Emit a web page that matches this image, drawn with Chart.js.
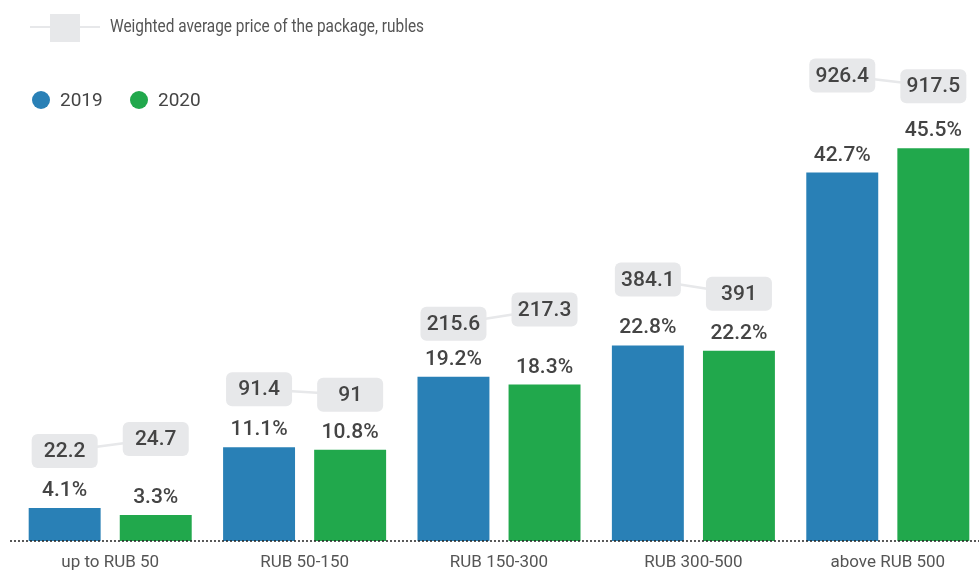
<!DOCTYPE html>
<html>
<head>
<meta charset="utf-8">
<script src="https://cdn.jsdelivr.net/npm/chart.js@4/dist/chart.umd.min.js"></script>
<style>
  html, body { margin: 0; padding: 0; background: #fff; overflow: hidden; }
  #wrap { position: absolute; left: 0; top: 0; width: 985px; height: 572px; }
</style>
</head>
<body>
<div id="wrap"><canvas id="myChart"></canvas></div>
<script>
var categories = ["up to RUB 50", "RUB 50-150", "RUB 150-300", "RUB 300-500", "above RUB 500"];
var share2019 = [4.1, 11.1, 19.2, 22.8, 42.7];
var share2020 = [3.3, 10.8, 18.3, 22.2, 45.5];
var price2019 = [22.2, 91.4, 215.6, 384.1, 926.4];
var price2020 = [24.7, 91, 217.3, 391, 917.5];
var seriesNames = ["2019", "2020"];
var priceLegend = "Weighted average price of the package, rubles";

var blue = "#2980b6";
var green = "#21a84c";
var boxGrey = "#e7e8ea";
var numFont = "500 21px Roboto";

function roundRect(ctx, x, y, w, h, r) {
    ctx.beginPath();
    ctx.moveTo(x + r, y);
    ctx.arcTo(x + w, y, x + w, y + h, r);
    ctx.arcTo(x + w, y + h, x, y + h, r);
    ctx.arcTo(x, y + h, x, y, r);
    ctx.arcTo(x, y, x + w, y, r);
    ctx.closePath();
}

// value labels above bars + price boxes joined by a line
var labelsPlugin = {
    id: "barLabels",
    afterDatasetsDraw: function (chart, args, opts) {
        var ctx = chart.ctx;
        var prices = [price2019, price2020];
        var m0 = chart.getDatasetMeta(0).data;
        var m1 = chart.getDatasetMeta(1).data;
        ctx.save();

        // dotted baseline
        var yb = chart.chartArea.bottom;
        ctx.strokeStyle = "#222";
        ctx.lineWidth = 1.5;
        ctx.setLineDash([2, 2]);
        ctx.beginPath();
        ctx.moveTo(10, yb);
        ctx.lineTo(chart.width, yb);
        ctx.stroke();
        ctx.setLineDash([]);

        // connectors
        ctx.strokeStyle = boxGrey;
        ctx.lineWidth = 2.5;
        for (var i = 0; i < categories.length; i++) {
            ctx.beginPath();
            ctx.moveTo(m0[i].x, m0[i].y - opts.lift[0][i]);
            ctx.lineTo(m1[i].x, m1[i].y - opts.lift[1][i]);
            ctx.stroke();
        }

        ctx.textAlign = "center";
        [m0, m1].forEach(function (bars, d) {
            bars.forEach(function (bar, i) {
                var cy = bar.y - opts.lift[d][i];
                ctx.fillStyle = boxGrey;
                roundRect(ctx, bar.x - 33, cy - 17, 66, 34, 6);
                ctx.fill();
                ctx.fillStyle = "#444";
                ctx.font = numFont;
                ctx.textBaseline = "middle";
                ctx.fillText(String(prices[d][i]), bar.x, cy + 1);

                var v = chart.data.datasets[d].data[i];
                ctx.textBaseline = "alphabetic";
                ctx.fillText(v + "%", bar.x, bar.y - 12);
            });
        });
        ctx.restore();
    },
    afterDraw: function (chart) {
        var ctx = chart.ctx;
        ctx.save();
        // price legend row
        ctx.strokeStyle = boxGrey;
        ctx.lineWidth = 2;
        ctx.beginPath();
        ctx.moveTo(30, 27);
        ctx.lineTo(100, 27);
        ctx.stroke();
        ctx.fillStyle = boxGrey;
        ctx.fillRect(50, 14, 30, 28);
        ctx.fillStyle = "#555";
        ctx.font = "19px Roboto";
        ctx.textBaseline = "middle";
        ctx.textAlign = "left";
        // condensed look: squeeze the text to the legend width
        var w = ctx.measureText(priceLegend).width;
        ctx.save();
        ctx.translate(110, 27);
        ctx.scale(314 / w, 1);
        ctx.fillText(priceLegend, 0, 0);
        ctx.restore();

        // series legend row
        var xs = [41, 139];
        ctx.font = "19px Roboto";
        chart.data.datasets.forEach(function (ds, k) {
            ctx.fillStyle = ds.backgroundColor;
            ctx.beginPath();
            ctx.arc(xs[k], 100, 9, 0, Math.PI * 2);
            ctx.fill();
            ctx.fillStyle = "#444";
            ctx.fillText(ds.label, xs[k] + 19, 101);
        });
        ctx.restore();
    }
};

new Chart("myChart", {
    type: "bar",
    data: {
        labels: categories,
        datasets: [{
            label: seriesNames[0],
            backgroundColor: blue,
            data: share2019
        }, {
            label: seriesNames[1],
            backgroundColor: green,
            data: share2020
        }]
    },
    options: {
        responsive: true,
        maintainAspectRatio: false,
        devicePixelRatio: 1,
        animation: false,
        categoryPercentage: 0.937,
        barPercentage: 0.79,
        layout: { padding: { top: 110, left: 13, right: 0, bottom: 0 } },
        plugins: {
            legend: { display: false },
            tooltip: { enabled: false },
            barLabels: {
                lift: [[57, 58, 53, 66, 97], [76, 55, 75, 57, 62]]
            }
        },
        scales: {
            x: {
                grid: { display: false },
                border: { display: false },
                ticks: { color: "#555", font: { family: "Roboto", size: 17 }, padding: 4 },
                afterFit: function (scale) { scale.height = 31; }
            },
            y: {
                display: false,
                min: 0.3,
                max: 49.9
            }
        }
    },
    plugins: [labelsPlugin]
});
</script>
</body>
</html>
